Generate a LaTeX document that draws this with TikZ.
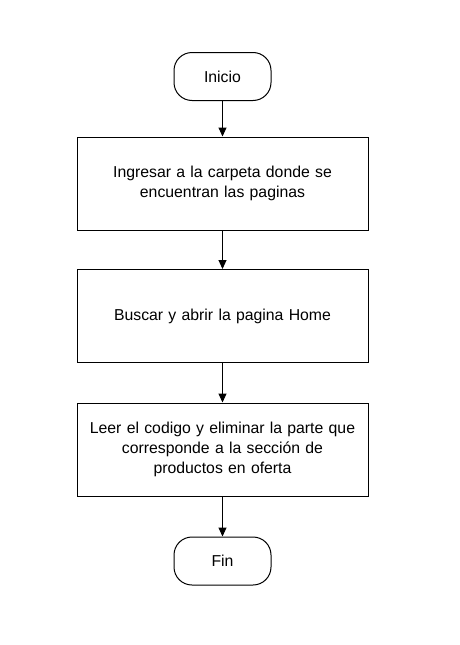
\documentclass[tikz,border=0pt]{standalone}
\usepackage{fontspec}
\setmainfont{Liberation Sans}
\usetikzlibrary{arrows.meta}
\begin{document}
\begin{tikzpicture}[x=1pt,y=-1pt,
  base/.style={draw=black, line width=1pt, font=\fontsize{15.8}{19.6}\selectfont, align=center, inner sep=0pt},
  term/.style={base, rounded corners=18pt, minimum width=97pt, minimum height=48pt},
  proc/.style={base, minimum width=291pt, minimum height=93pt, text width=285pt},
  conn/.style={line width=1pt, -{Triangle[length=9pt,width=8pt]}}]
\useasboundingbox (0,0) rectangle (459,645);
\node[term] (inicio) at (222.5,76.5) {Inicio};
\node[proc] (p1) at (222.5,183.5) {Ingresar a la carpeta donde se\\encuentran las paginas};
\node[proc] (p2) at (222.5,316) {Buscar y abrir la pagina Home};
\node[proc] (p3) at (222.5,449.5) {Leer el codigo y eliminar la parte que\\corresponde a la sección de\\productos en oferta};
\node[term] (fin) at (222.5,561) {Fin};
\draw[conn] (inicio) -- (p1);
\draw[conn] (p1) -- (p2);
\draw[conn] (p2) -- (p3);
\draw[conn] (p3) -- (fin);
\end{tikzpicture}
\end{document}
